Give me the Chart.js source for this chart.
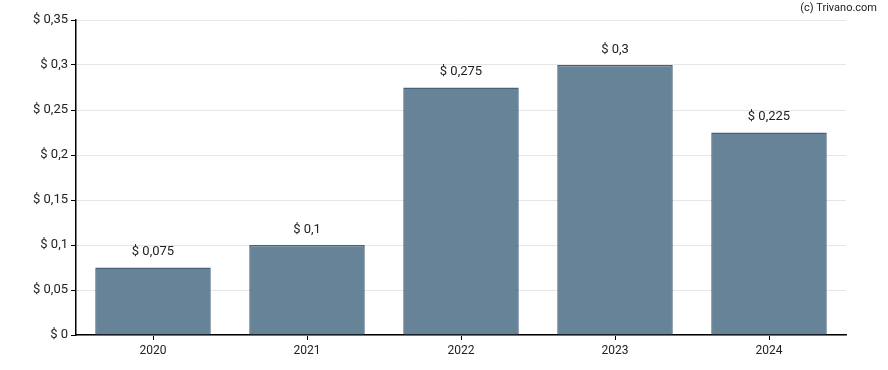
<!DOCTYPE html>
<html>
<head>
<meta charset="utf-8">
<script src="https://cdn.jsdelivr.net/npm/chart.js@4"></script>
<style>
  html, body { margin: 0; padding: 0; background: #fff; }
  #wrap { width: 888px; height: 370px; position: relative; }
</style>
</head>
<body>
<div id="wrap"><canvas id="chart" width="888" height="370"></canvas></div>
<script>
const years = ["2020", "2021", "2022", "2023", "2024"];
const dividends = [0.075, 0.1, 0.275, 0.3, 0.225];
const yMax = 0.35;
const yStep = 0.05;

const fontFamily = "Roboto, 'Liberation Sans', Arial, sans-serif";

// "$ 0,075" style
function euroFormat(v) {
    let n = Math.round(v * 1000) / 1000;
    return "$ " + String(n).replace(".", ",");
}

// labels above bars and the copyright note
const barLabels = {
    id: "barLabels",
    afterDatasetsDraw(chart) {
        const ctx = chart.ctx;
        const meta = chart.getDatasetMeta(0);
        ctx.save();
        ctx.font = "13px " + fontFamily;
        ctx.fillStyle = "#222";
        ctx.textAlign = "center";
        ctx.textBaseline = "bottom";
        meta.data.forEach((bar, i) => {
            ctx.fillText(euroFormat(dividends[i]), bar.x, bar.y - 9);
        });
        ctx.font = "11px " + fontFamily;
        ctx.textAlign = "right";
        ctx.textBaseline = "middle";
        ctx.fillText("(c) Trivano.com", 877, 8);
        ctx.restore();
    }
};

new Chart(document.querySelector("#chart"), {
    type: "bar",
    plugins: [barLabels],
    data: {
        labels: years,
        datasets: [{
            data: dividends,
            backgroundColor: "#668398",
            borderColor: "#46617a",
            borderWidth: 1.5,
            inflateAmount: 0,
            barPercentage: 0.75,
            categoryPercentage: 1.0
        }]
    },
    options: {
        responsive: false,
        animation: false,
        layout: { padding: { left: 0, right: 42, top: 20, bottom: 0 } },
        plugins: {
            legend: { display: false },
            tooltip: { enabled: false }
        },
        scales: {
            x: {
                grid: {
                    offset: false,
                    drawOnChartArea: false,
                    tickLength: 5,
                    tickColor: "#000"
                },
                border: { color: "#000", width: 1.5 },
                ticks: {
                    color: "#222",
                    padding: 4,
                    font: { size: 12, family: fontFamily }
                },
                afterFit(scale) { scale.height = 35; }
            },
            y: {
                min: 0,
                max: yMax,
                grid: {
                    color: "#e6e6e6",
                    tickColor: "#000",
                    tickLength: 5
                },
                border: { color: "#000", width: 1.5 },
                ticks: {
                    stepSize: yStep,
                    color: "#222",
                    padding: 3,
                    font: { size: 13, family: fontFamily },
                    callback: v => euroFormat(v)
                },
                afterFit(scale) { scale.width = 76; }
            }
        }
    }
});
</script>
</body>
</html>
